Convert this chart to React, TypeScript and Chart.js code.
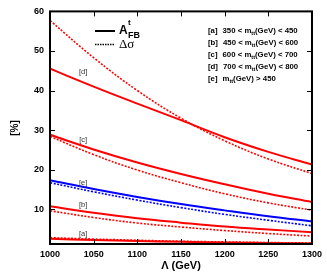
import React, { useEffect, useRef } from "react";
import { Chart, registerables } from "chart.js";

Chart.register(...registerables);

const lambdas = [1000, 1050, 1100, 1150, 1200, 1250, 1300];

const dSolid = [45.5, 41.0, 36.7, 32.5, 28.2, 24.5, 21.3];
const dDashed = [57.7, 48.3, 40.0, 33.0, 27.3, 22.7, 19.0];
const cSolid = [28.8, 25.1, 21.8, 18.9, 16.3, 13.9, 11.8];
const cDashed = [28.4, 23.8, 19.9, 16.7, 13.9, 11.6, 9.75];
const eSolid = [17.3, 15.1, 13.1, 11.3, 9.7, 8.2, 6.9];
const eDashed = [16.7, 14.4, 12.3, 10.4, 8.7, 7.2, 5.8];
const bSolid = [10.75, 9.1, 7.7, 6.6, 5.6, 4.85, 4.2];
const bDashed = [9.6, 7.9, 6.5, 5.5, 4.6, 3.85, 3.2];
const aSolid = [2.5, 2.2, 1.95, 1.75, 1.6, 1.45, 1.35];
const aDashed = [2.8, 2.45, 2.15, 1.9, 1.72, 1.57, 1.45];

const xTicks = [1000, 1050, 1100, 1150, 1200, 1250, 1300];
const yTicks = [10, 20, 30, 40, 50, 60];

const curveLabels = ["[d]", "[c]", "[e]", "[b]", "[a]"];
const curveLabelX = [1038, 1038, 1038, 1038, 1038];
const curveLabelY = [44.8, 27.4, 16.7, 11.2, 3.8];

const legendKeys = ["[a]", "[b]", "[c]", "[d]", "[e]"];
const legendPre = ["350 < m", "450 < m", "600 < m", "700 < m", "m"];
const legendPost = ["(GeV) < 450", "(GeV) < 600", "(GeV) < 700", "(GeV) < 800", "(GeV) > 450"];

const RED = "#ff0000";
const BLUE = "#0000ff";

function pts(ys: number[]) {
  return lambdas.map((x, i) => ({ x, y: ys[i] }));
}

function ds(ys: number[], color: string, dashed: boolean) {
  return {
    data: pts(ys),
    borderColor: color,
    borderWidth: dashed ? 1.6 : 2,
    borderDash: dashed ? [2, 1.5] : [],
    pointRadius: 0,
    fill: false,
    tension: 0.4,
  };
}

const framePlugin = {
  id: "frame",
  afterDraw(chart: any) {
    const { ctx, chartArea: a, scales } = chart;
    const xs = scales.x;
    const ys = scales.y;
    ctx.save();
    ctx.strokeStyle = "#000";
    ctx.lineWidth = 2;
    ctx.strokeRect(a.left, a.top, a.right - a.left, a.bottom - a.top);
    ctx.lineWidth = 1;
    const tl = 5;
    ctx.beginPath();
    xTicks.forEach((v) => {
      const px = Math.round(xs.getPixelForValue(v)) + 0.5;
      ctx.moveTo(px, a.bottom);
      ctx.lineTo(px, a.bottom - tl);
      ctx.moveTo(px, a.top);
      ctx.lineTo(px, a.top + tl);
    });
    yTicks.forEach((v) => {
      const py = Math.round(ys.getPixelForValue(v)) + 0.5;
      ctx.moveTo(a.left, py);
      ctx.lineTo(a.left + tl, py);
      ctx.moveTo(a.right, py);
      ctx.lineTo(a.right - tl, py);
    });
    ctx.stroke();

    // curve labels
    ctx.fillStyle = "#333";
    ctx.font = "7.5px 'Liberation Sans', Arial, sans-serif";
    ctx.textAlign = "center";
    ctx.textBaseline = "middle";
    curveLabels.forEach((t, i) => {
      ctx.fillText(t, xs.getPixelForValue(curveLabelX[i]), ys.getPixelForValue(curveLabelY[i]));
    });

    // style legend
    ctx.strokeStyle = "#000";
    ctx.lineWidth = 2;
    ctx.setLineDash([]);
    ctx.beginPath();
    ctx.moveTo(95, 31);
    ctx.lineTo(115, 31);
    ctx.stroke();
    ctx.lineWidth = 1.5;
    ctx.setLineDash([1.5, 1]);
    ctx.beginPath();
    ctx.moveTo(95, 44.5);
    ctx.lineTo(115, 44.5);
    ctx.stroke();
    ctx.setLineDash([]);
    ctx.fillStyle = "#000";
    ctx.textAlign = "left";
    ctx.textBaseline = "alphabetic";
    ctx.font = "bold 12px 'Liberation Sans', Arial, sans-serif";
    ctx.fillText("A", 119, 34);
    ctx.font = "bold 8px 'Liberation Sans', Arial, sans-serif";
    ctx.fillText("t", 128, 25);
    ctx.font = "bold 9px 'Liberation Sans', Arial, sans-serif";
    ctx.fillText("FB", 128, 38);
    ctx.font = "13px 'Liberation Serif', 'DejaVu Serif', serif";
    ctx.fillText("\u0394\u03c3", 119, 48);

    // mtt legend
    const lx = 208;
    legendKeys.forEach((k, i) => {
      const y = 32.5 + i * 12;
      ctx.font = "bold 7.8px 'Liberation Sans', Arial, sans-serif";
      ctx.fillStyle = "#000";
      let x = lx;
      ctx.fillText(k, x, y);
      x += ctx.measureText(k).width + 5;
      ctx.fillText(legendPre[i], x, y);
      x += ctx.measureText(legendPre[i]).width;
      ctx.font = "bold 5.5px 'Liberation Sans', Arial, sans-serif";
      ctx.fillText("tt", x, y + 2);
      x += ctx.measureText("tt").width;
      ctx.font = "bold 7.8px 'Liberation Sans', Arial, sans-serif";
      ctx.fillText(legendPost[i], x, y);
    });

    // axis titles
    ctx.font = "bold 11px 'Liberation Sans', Arial, sans-serif";
    ctx.textAlign = "center";
    ctx.textBaseline = "middle";
    ctx.fillText("\u039b (GeV)", 181, 266);
    ctx.save();
    ctx.translate(15, 128);
    ctx.rotate(-Math.PI / 2);
    ctx.font = "bold 10px 'Liberation Sans', Arial, sans-serif";
    ctx.fillText("[%]", 0, 0);
    ctx.restore();
    ctx.restore();
  },
};

export default function App() {
  const ref = useRef<HTMLCanvasElement | null>(null);
  useEffect(() => {
    document.body.style.margin = "0";
    const chart = new Chart(ref.current as HTMLCanvasElement, {
      type: "line",
      data: {
        datasets: [
          ds(dSolid, RED, false),
          ds(dDashed, RED, true),
          ds(cSolid, RED, false),
          ds(cDashed, RED, true),
          ds(eSolid, BLUE, false),
          ds(eDashed, BLUE, true),
          ds(bSolid, RED, false),
          ds(bDashed, RED, true),
          ds(aSolid, RED, false),
          ds(aDashed, RED, true),
        ] as any,
      },
      options: {
        animation: false,
        responsive: false,
        maintainAspectRatio: false,
        layout: { padding: { left: 0, top: 10, right: 14, bottom: 0 } },
        plugins: { legend: { display: false }, tooltip: { enabled: false } },
        scales: {
          x: {
            type: "linear",
            min: 1000,
            max: 1300,
            afterFit: (s: any) => {
              s.height = 30;
            },
            afterBuildTicks: (s: any) => {
              s.ticks = xTicks.map((v) => ({ value: v }));
            },
            grid: { display: false, drawTicks: false },
            border: { display: false },
            ticks: {
              color: "#000",
              padding: 5,
              maxRotation: 0,
              autoSkip: false,
              callback: (v: any) => String(v),
              font: { family: "'Liberation Sans', Arial, sans-serif", weight: "bold", size: 9 },
            },
          },
          y: {
            type: "linear",
            min: 1.2,
            max: 60,
            afterFit: (s: any) => {
              s.width = 50;
            },
            afterBuildTicks: (s: any) => {
              s.ticks = yTicks.map((v) => ({ value: v }));
            },
            grid: { display: false, drawTicks: false },
            border: { display: false },
            ticks: {
              color: "#000",
              padding: 6,
              callback: (v: any) => String(v),
              font: { family: "'Liberation Sans', Arial, sans-serif", weight: "bold", size: 9 },
            },
          },
        },
      },
      plugins: [framePlugin],
    });
    return () => chart.destroy();
  }, []);
  return (
    <div style={{ position: "absolute", left: 0, top: 0, width: 327, height: 274 }}>
      <canvas ref={ref} width={327} height={274} style={{ width: 327, height: 274 }} />
    </div>
  );
}
